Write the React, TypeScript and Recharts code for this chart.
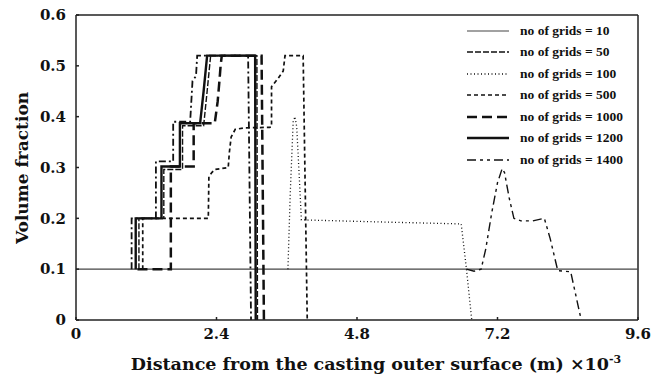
import { LineChart, Line, XAxis, YAxis, Legend, ReferenceLine } from 'recharts';

const FONT = "'DejaVu Serif', serif";
const LEGEND_FONT = "'Liberation Serif', serif";

const X_TICKS = [0, 2.4, 4.8, 7.2, 9.6];
const Y_TICKS = [0, 0.1, 0.2, 0.3, 0.4, 0.5, 0.6];

// distance (x 10^-3 m) / volume fraction
const grid10X = [0, 9.6];
const grid10Y = [0.1, 0.1];

const grid50X = [1.075, 1.075, 1.5, 1.5, 1.82, 1.82, 2.18, 2.24, 2.3, 3.09, 3.1];
const grid50Y = [0.1, 0.2, 0.2, 0.296, 0.296, 0.382, 0.382, 0.45, 0.52, 0.52, 0];

const grid100X = [3.62, 3.66, 3.71, 3.74, 3.77, 3.81, 3.85, 4.5, 5.5, 6.58, 6.67, 6.76];
const grid100Y = [0.1, 0.25, 0.39, 0.4, 0.38, 0.29, 0.197, 0.195, 0.192, 0.189, 0.1, 0];

const grid500X = [1.14, 1.14, 2.26, 2.27, 2.32, 2.37, 2.6, 2.62, 2.65, 2.72, 2.88, 3.31, 3.34, 3.34, 3.45, 3.54, 3.57, 3.88, 3.95];
const grid500Y = [0.1, 0.2, 0.2, 0.282, 0.29, 0.296, 0.3, 0.33, 0.36, 0.375, 0.378, 0.379, 0.38, 0.459, 0.475, 0.49, 0.52, 0.52, 0];

const grid1000X = [1.05, 1.62, 1.62, 2.01, 2.01, 2.37, 2.42, 2.45, 2.47, 2.49, 3.17, 3.21];
const grid1000Y = [0.1, 0.1, 0.302, 0.302, 0.387, 0.387, 0.43, 0.47, 0.5, 0.52, 0.52, 0];

const grid1200X = [1.02, 1.02, 1.46, 1.46, 1.775, 1.775, 2.12, 2.18, 2.24, 3.06, 3.07];
const grid1200Y = [0.1, 0.2, 0.2, 0.302, 0.302, 0.387, 0.387, 0.45, 0.52, 0.52, 0];

const grid1400X = [6.67, 6.8, 6.92, 7.0, 7.1, 7.2, 7.28, 7.32, 7.4, 7.48, 7.6, 7.8, 8.0, 8.1, 8.23, 8.45, 8.63];
const grid1400Y = [0.1, 0.096, 0.1, 0.14, 0.21, 0.27, 0.298, 0.29, 0.24, 0.2, 0.195, 0.195, 0.2, 0.16, 0.097, 0.095, 0];

// extra step curve in the left cluster (no legend entry in the figure)
const extraX = [0.95, 0.95, 1.365, 1.365, 1.66, 1.66, 1.95, 1.99, 2.05, 2.07, 2.94, 2.99];
const extraY = [0.1, 0.2, 0.2, 0.312, 0.312, 0.39, 0.39, 0.47, 0.48, 0.52, 0.52, 0];

const zip = (xs: number[], ys: number[]) => xs.map((x, i) => ({ x, y: ys[i] }));

interface SeriesDef {
  name: string;
  data: { x: number; y: number }[];
  dash?: string;
  width: number;
  color: string;
  inLegend: boolean;
}

const SERIES: SeriesDef[] = [
  { name: 'no of grids = 10', data: zip(grid10X, grid10Y), width: 1.2, color: '#444', inLegend: true },
  { name: 'no of grids = 50', data: zip(grid50X, grid50Y), dash: '6 2', width: 1.4, color: '#111', inLegend: true },
  { name: 'no of grids = 100', data: zip(grid100X, grid100Y), dash: '1 2.5', width: 1.3, color: '#111', inLegend: true },
  { name: 'no of grids = 500', data: zip(grid500X, grid500Y), dash: '4 3', width: 1.7, color: '#111', inLegend: true },
  { name: 'no of grids = 1000', data: zip(grid1000X, grid1000Y), dash: '10 5', width: 2.5, color: '#111', inLegend: true },
  { name: 'no of grids = 1200', data: zip(grid1200X, grid1200Y), width: 2.4, color: '#111', inLegend: true },
  { name: 'no of grids = 1400', data: zip(grid1400X, grid1400Y), dash: '9 4 3 4 3 4', width: 1.4, color: '#111', inLegend: true },
  { name: 'extra', data: zip(extraX, extraY), dash: '7 3 2 3', width: 1.8, color: '#111', inLegend: false },
];

function GridLegend() {
  return (
    <div style={{ fontFamily: LEGEND_FONT }}>
      {SERIES.filter((s) => s.inLegend).map((s) => (
        <div key={s.name} style={{ display: 'flex', alignItems: 'center', height: 21.5 }}>
          <svg width={44} height={8} style={{ marginRight: 10 }}>
            <line x1={1} y1={4} x2={43} y2={4} stroke={s.color} strokeWidth={s.width} strokeDasharray={s.dash} />
          </svg>
          <span style={{ fontSize: 13.5, fontWeight: 'bold', color: '#111', whiteSpace: 'nowrap' }}>{s.name}</span>
        </div>
      ))}
    </div>
  );
}

const fmt = (v: number) => (v === 0 ? '0' : v.toFixed(1));

const renderYLabel = () => (
  <text x={22} y={168} transform="rotate(-90 22 168)" textAnchor="middle" dominantBaseline="central"
    fontFamily={FONT} fontSize={17} fontWeight="bold" fill="#111">
    Volume fraction
  </text>
);

const renderXLabel = () => (
  <text x={376} y={370} textAnchor="middle" fontFamily={FONT} fontSize={17.5} fontWeight="bold" fill="#111">
    Distance from the casting outer surface (m) ×10
    <tspan dy={-7} fontSize={11}>-3</tspan>
  </text>
);

export default function App() {
  const tickStyle = { fill: '#111', fontSize: 15, fontWeight: 'bold', fontFamily: FONT };
  return (
    <div style={{ position: 'absolute', left: 0, top: 0, width: 651, height: 377, background: '#fff' }}>
      <LineChart width={651} height={377} margin={{ top: 15, right: 13, bottom: 0, left: 0 }}>
        <XAxis
          dataKey="x"
          type="number"
          domain={[0, 9.6]}
          ticks={X_TICKS}
          tickFormatter={fmt}
          allowDataOverflow
          height={57}
          tickSize={-3}
          tickMargin={11}
          tick={tickStyle}
          stroke="#222"
          strokeWidth={1.5}
          label={renderXLabel}
        />
        <YAxis
          type="number"
          domain={[0, 0.6]}
          ticks={Y_TICKS}
          tickFormatter={fmt}
          allowDataOverflow
          width={76}
          tickSize={-3}
          tickMargin={13}
          tick={tickStyle}
          stroke="#222"
          strokeWidth={1.5}
          label={renderYLabel}
        />
        <ReferenceLine y={0.6} stroke="#222" strokeWidth={1.5} />
        <ReferenceLine x={9.6} stroke="#222" strokeWidth={1.5} />
        {SERIES.map((s) => (
          <Line
            key={s.name}
            data={s.data}
            dataKey="y"
            name={s.name}
            type="linear"
            stroke={s.color}
            strokeWidth={s.width}
            strokeDasharray={s.dash}
            dot={false}
            activeDot={false}
            legendType={s.inLegend ? 'line' : 'none'}
            isAnimationActive={false}
          />
        ))}
        <Legend
          layout="vertical"
          align="center"
          verticalAlign="middle"
          content={() => <GridLegend />}
          wrapperStyle={{ left: 466, top: 20, width: 180, height: 152 }}
        />
      </LineChart>
    </div>
  );
}
